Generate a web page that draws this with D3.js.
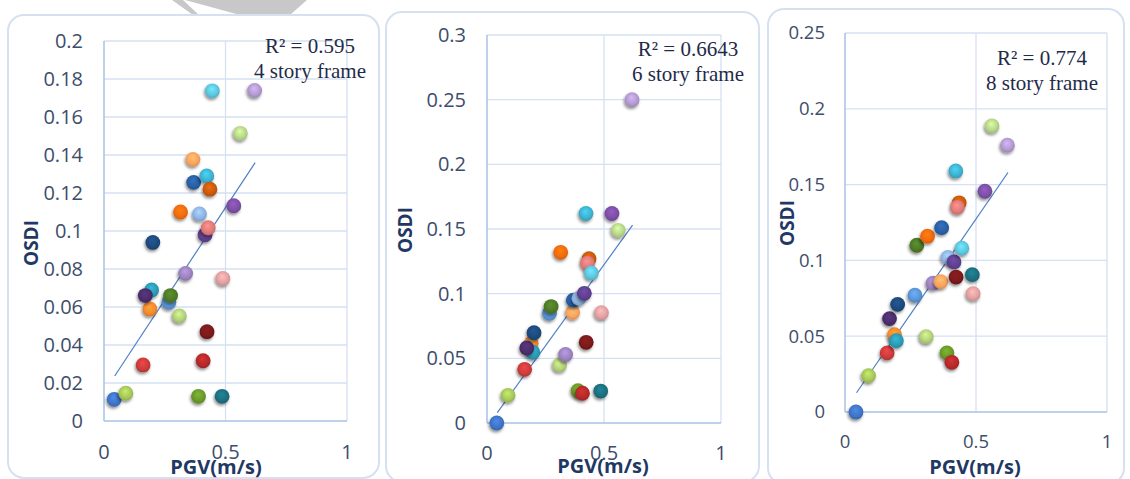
<!DOCTYPE html>
<html>
<head>
<meta charset="utf-8">
<script src="https://cdn.jsdelivr.net/npm/d3@7"></script>
<style>
  body { margin: 0; background: #fff; }
  svg { display: block; }
</style>
</head>
<body>
<div class="chart"></div>
<script>
// same 28 ground motions in every panel, x = PGV (m/s)
const pgv = [0.042, 0.09, 0.161, 0.189, 0.196, 0.17, 0.201, 0.267, 0.31, 0.336,
             0.366, 0.274, 0.315, 0.369, 0.393, 0.416, 0.424, 0.389, 0.408, 0.423,
             0.436, 0.429, 0.446, 0.486, 0.489, 0.534, 0.62, 0.561];

const colors = ["#3f74c6", "#a6c75a", "#cc3b3b", "#f58a2c", "#2c9bb5", "#4b2d6b", "#1e4a7d", "#5b95d5", "#b3d07b", "#9c83c0",
                "#f9a45e", "#4e7a27", "#f26b0f", "#2a5fa3", "#8eb4e3", "#60408f", "#7a1a1a", "#6a9a2a", "#b52a2a", "#3eb2d0",
                "#c95a0c", "#e07b78", "#5ec5df", "#1d6f80", "#e3a0a0", "#7d4fa6", "#b39ad0", "#b8d68a"];

// OSDI per frame
const osdi4 = [0.0114, 0.0146, 0.0295, 0.059, 0.069, 0.066, 0.094, 0.0625, 0.0553, 0.0777,
               0.1377, 0.066, 0.11, 0.1256, 0.109, 0.098, 0.047, 0.013, 0.0317, 0.129,
               0.122, 0.1017, 0.1738, 0.013, 0.075, 0.1133, 0.174, 0.1514];
const osdi6 = [0, 0.0214, 0.0415, 0.0616, 0.0547, 0.058, 0.0698, 0.0848, 0.0449, 0.053,
               0.0856, 0.09, 0.132, 0.095, 0.0964, 0.1003, 0.0624, 0.025, 0.023, 0.162,
               0.127, 0.1235, 0.116, 0.0247, 0.0853, 0.162, 0.25, 0.149];
const osdi8 = [0, 0.024, 0.039, 0.051, 0.047, 0.0616, 0.071, 0.077, 0.0497, 0.085,
               0.086, 0.11, 0.116, 0.1216, 0.102, 0.099, 0.089, 0.039, 0.0328, 0.159,
               0.138, 0.135, 0.108, 0.0906, 0.078, 0.1456, 0.176, 0.1887];

// linear trend lines (x range and fitted y at the ends)
const trendX = [0.044, 0.622];
const trend4 = [0.0237, 0.136];
const trend6 = [0.008, 0.153];
const trend8 = [0.0127, 0.158];

const rSquared = ["R\u00b2 = 0.595", "R\u00b2 = 0.6643", "R\u00b2 = 0.774"];
const frameNames = ["4 story frame", "6 story frame", "8 story frame"];
const yMax = [0.2, 0.3, 0.25];
const yStep = [0.02, 0.05, 0.05];
const xTicks = [0, 0.5, 1];

const W = 1130, H = 479;

const panels = [
  {box: [8, 15, 371, 463], x: [104, 347], y: [421, 41], osdi: osdi4, trend: trend4, fs: 20,
   note: [310, 53, 78], ylab: [38, 243], xlab: [216, 474], xt: 459, yt: 83},
  {box: [386, 12, 373, 470], x: [487, 721], y: [423, 35], osdi: osdi6, trend: trend6, fs: 20,
   note: [688, 56, 81], ylab: [412, 230], xlab: [603, 473], xt: 460, yt: 466},
  {box: [768, 9, 356, 475], x: [845, 1107], y: [412, 33], osdi: osdi8, trend: trend8, fs: 18.5,
   note: [1042, 65, 90], ylab: [794, 223], xlab: [975, 474], xt: 448, yt: 825}
];

const svg = d3.select(".chart").append("svg")
    .attr("width", W)
    .attr("height", H);

const defs = svg.append("defs");
defs.append("filter")
    .attr("id", "shadow")
    .attr("x", "-50%").attr("y", "-50%").attr("width", "200%").attr("height", "200%")
  .append("feDropShadow")
    .attr("dx", -1).attr("dy", 2)
    .attr("stdDeviation", 1.4)
    .attr("flood-color", "#000")
    .attr("flood-opacity", 0.45);

colors.forEach((c, i) => {
  const g = defs.append("radialGradient")
      .attr("id", "ball" + i)
      .attr("cx", "50%").attr("cy", "45%").attr("r", "55%")
      .attr("fx", "45%").attr("fy", "35%");
  g.append("stop").attr("offset", "0%").attr("stop-color", d3.color(c).brighter(0.5));
  g.append("stop").attr("offset", "70%").attr("stop-color", c);
  g.append("stop").attr("offset", "100%").attr("stop-color", d3.color(c).darker(0.4));
});

// grey watermark fragment at the top edge
svg.append("path")
    .attr("d", "M172,0 L183,0 L199,15 L193,15 Z M185,0 L307,0 L290,15 L240,15 Z")
    .attr("fill", "#c8c8c8");

panels.forEach((p, k) => {
  const xScale = d3.scaleLinear().domain([0, 1]).range(p.x);
  const yScale = d3.scaleLinear().domain([0, yMax[k]]).range(p.y);
  const yTicks = d3.range(0, yMax[k] + yStep[k] / 2, yStep[k]).map(v => +v.toFixed(2));

  const g = svg.append("g").attr("class", "panel");

  // rounded frame
  g.append("rect")
      .attr("x", p.box[0]).attr("y", p.box[1])
      .attr("width", p.box[2]).attr("height", p.box[3])
      .attr("rx", 16)
      .attr("fill", "none")
      .attr("stroke", "#d5e0f1")
      .attr("stroke-width", 2);

  // grid
  g.append("g").selectAll("line")
    .data(yTicks.slice(1))
    .join("line")
      .attr("x1", p.x[0]).attr("x2", p.x[1])
      .attr("y1", d => yScale(d)).attr("y2", d => yScale(d))
      .attr("stroke", "#d5e0f2").attr("stroke-width", 1.3);
  g.append("g").selectAll("line")
    .data(xTicks.slice(1))
    .join("line")
      .attr("x1", d => xScale(d)).attr("x2", d => xScale(d))
      .attr("y1", p.y[0]).attr("y2", p.y[1])
      .attr("stroke", "#d5e0f2").attr("stroke-width", 1.3);

  // axis lines
  g.append("line")
      .attr("x1", p.x[0]).attr("x2", p.x[1])
      .attr("y1", p.y[0]).attr("y2", p.y[0])
      .attr("stroke", "#a9c2e6").attr("stroke-width", 1.5);
  g.append("line")
      .attr("x1", p.x[0]).attr("x2", p.x[0])
      .attr("y1", p.y[0]).attr("y2", p.y[1])
      .attr("stroke", "#a9c2e6").attr("stroke-width", 1.5);

  // tick labels
  const yAxis = d3.axisLeft(yScale)
      .tickValues(yTicks)
      .tickSize(0)
      .tickPadding(p.x[0] - p.yt)
      .tickFormat(d => String(d));
  g.append("g")
      .attr("transform", `translate(${p.x[0]},0)`)
      .call(yAxis)
      .call(a => a.select(".domain").remove())
      .selectAll("text")
      .attr("font-family", "'Open Sans', sans-serif")
      .attr("font-size", p.fs)
      .attr("fill", "#3d4d6c");

  g.append("g").selectAll("text")
    .data(xTicks)
    .join("text")
      .attr("x", d => xScale(d))
      .attr("y", p.xt)
      .attr("text-anchor", "middle")
      .attr("font-family", "'Open Sans', sans-serif")
      .attr("font-size", p.fs)
      .attr("fill", "#3d4d6c")
      .text(d => String(d));

  // axis titles
  g.append("text")
      .attr("x", p.xlab[0]).attr("y", p.xlab[1])
      .attr("text-anchor", "middle")
      .attr("font-family", "'Open Sans', sans-serif")
      .attr("font-weight", "bold")
      .attr("font-size", 20)
      .attr("fill", "#1f3864")
      .text("PGV(m/s)");
  g.append("text")
      .attr("transform", `translate(${p.ylab[0]},${p.ylab[1]}) rotate(-90)`)
      .attr("text-anchor", "middle")
      .attr("font-family", "'Open Sans', sans-serif")
      .attr("font-weight", "bold")
      .attr("font-size", 19)
      .attr("fill", "#1f3864")
      .text("OSDI");

  // trend line
  g.append("line")
      .attr("x1", xScale(trendX[0])).attr("y1", yScale(p.trend[0]))
      .attr("x2", xScale(trendX[1])).attr("y2", yScale(p.trend[1]))
      .attr("stroke", "#4f7fc4").attr("stroke-width", 1.2);

  // points
  g.append("g").selectAll("circle")
    .data(pgv.map((v, i) => ({x: v, y: p.osdi[i], i})))
    .join("circle")
      .attr("cx", d => xScale(d.x))
      .attr("cy", d => yScale(d.y))
      .attr("r", 7.4)
      .attr("fill", d => `url(#ball${d.i})`)
      .attr("filter", "url(#shadow)");

  // annotation
  const note = g.append("g")
      .attr("font-family", "'Liberation Serif', 'Times New Roman', serif")
      .attr("font-size", 21)
      .attr("fill", "#1f2b4a")
      .attr("text-anchor", "middle");
  note.append("text").attr("x", p.note[0]).attr("y", p.note[1]).text(rSquared[k]);
  note.append("text").attr("x", p.note[0]).attr("y", p.note[2]).text(frameNames[k]);
});
</script>
</body>
</html>
